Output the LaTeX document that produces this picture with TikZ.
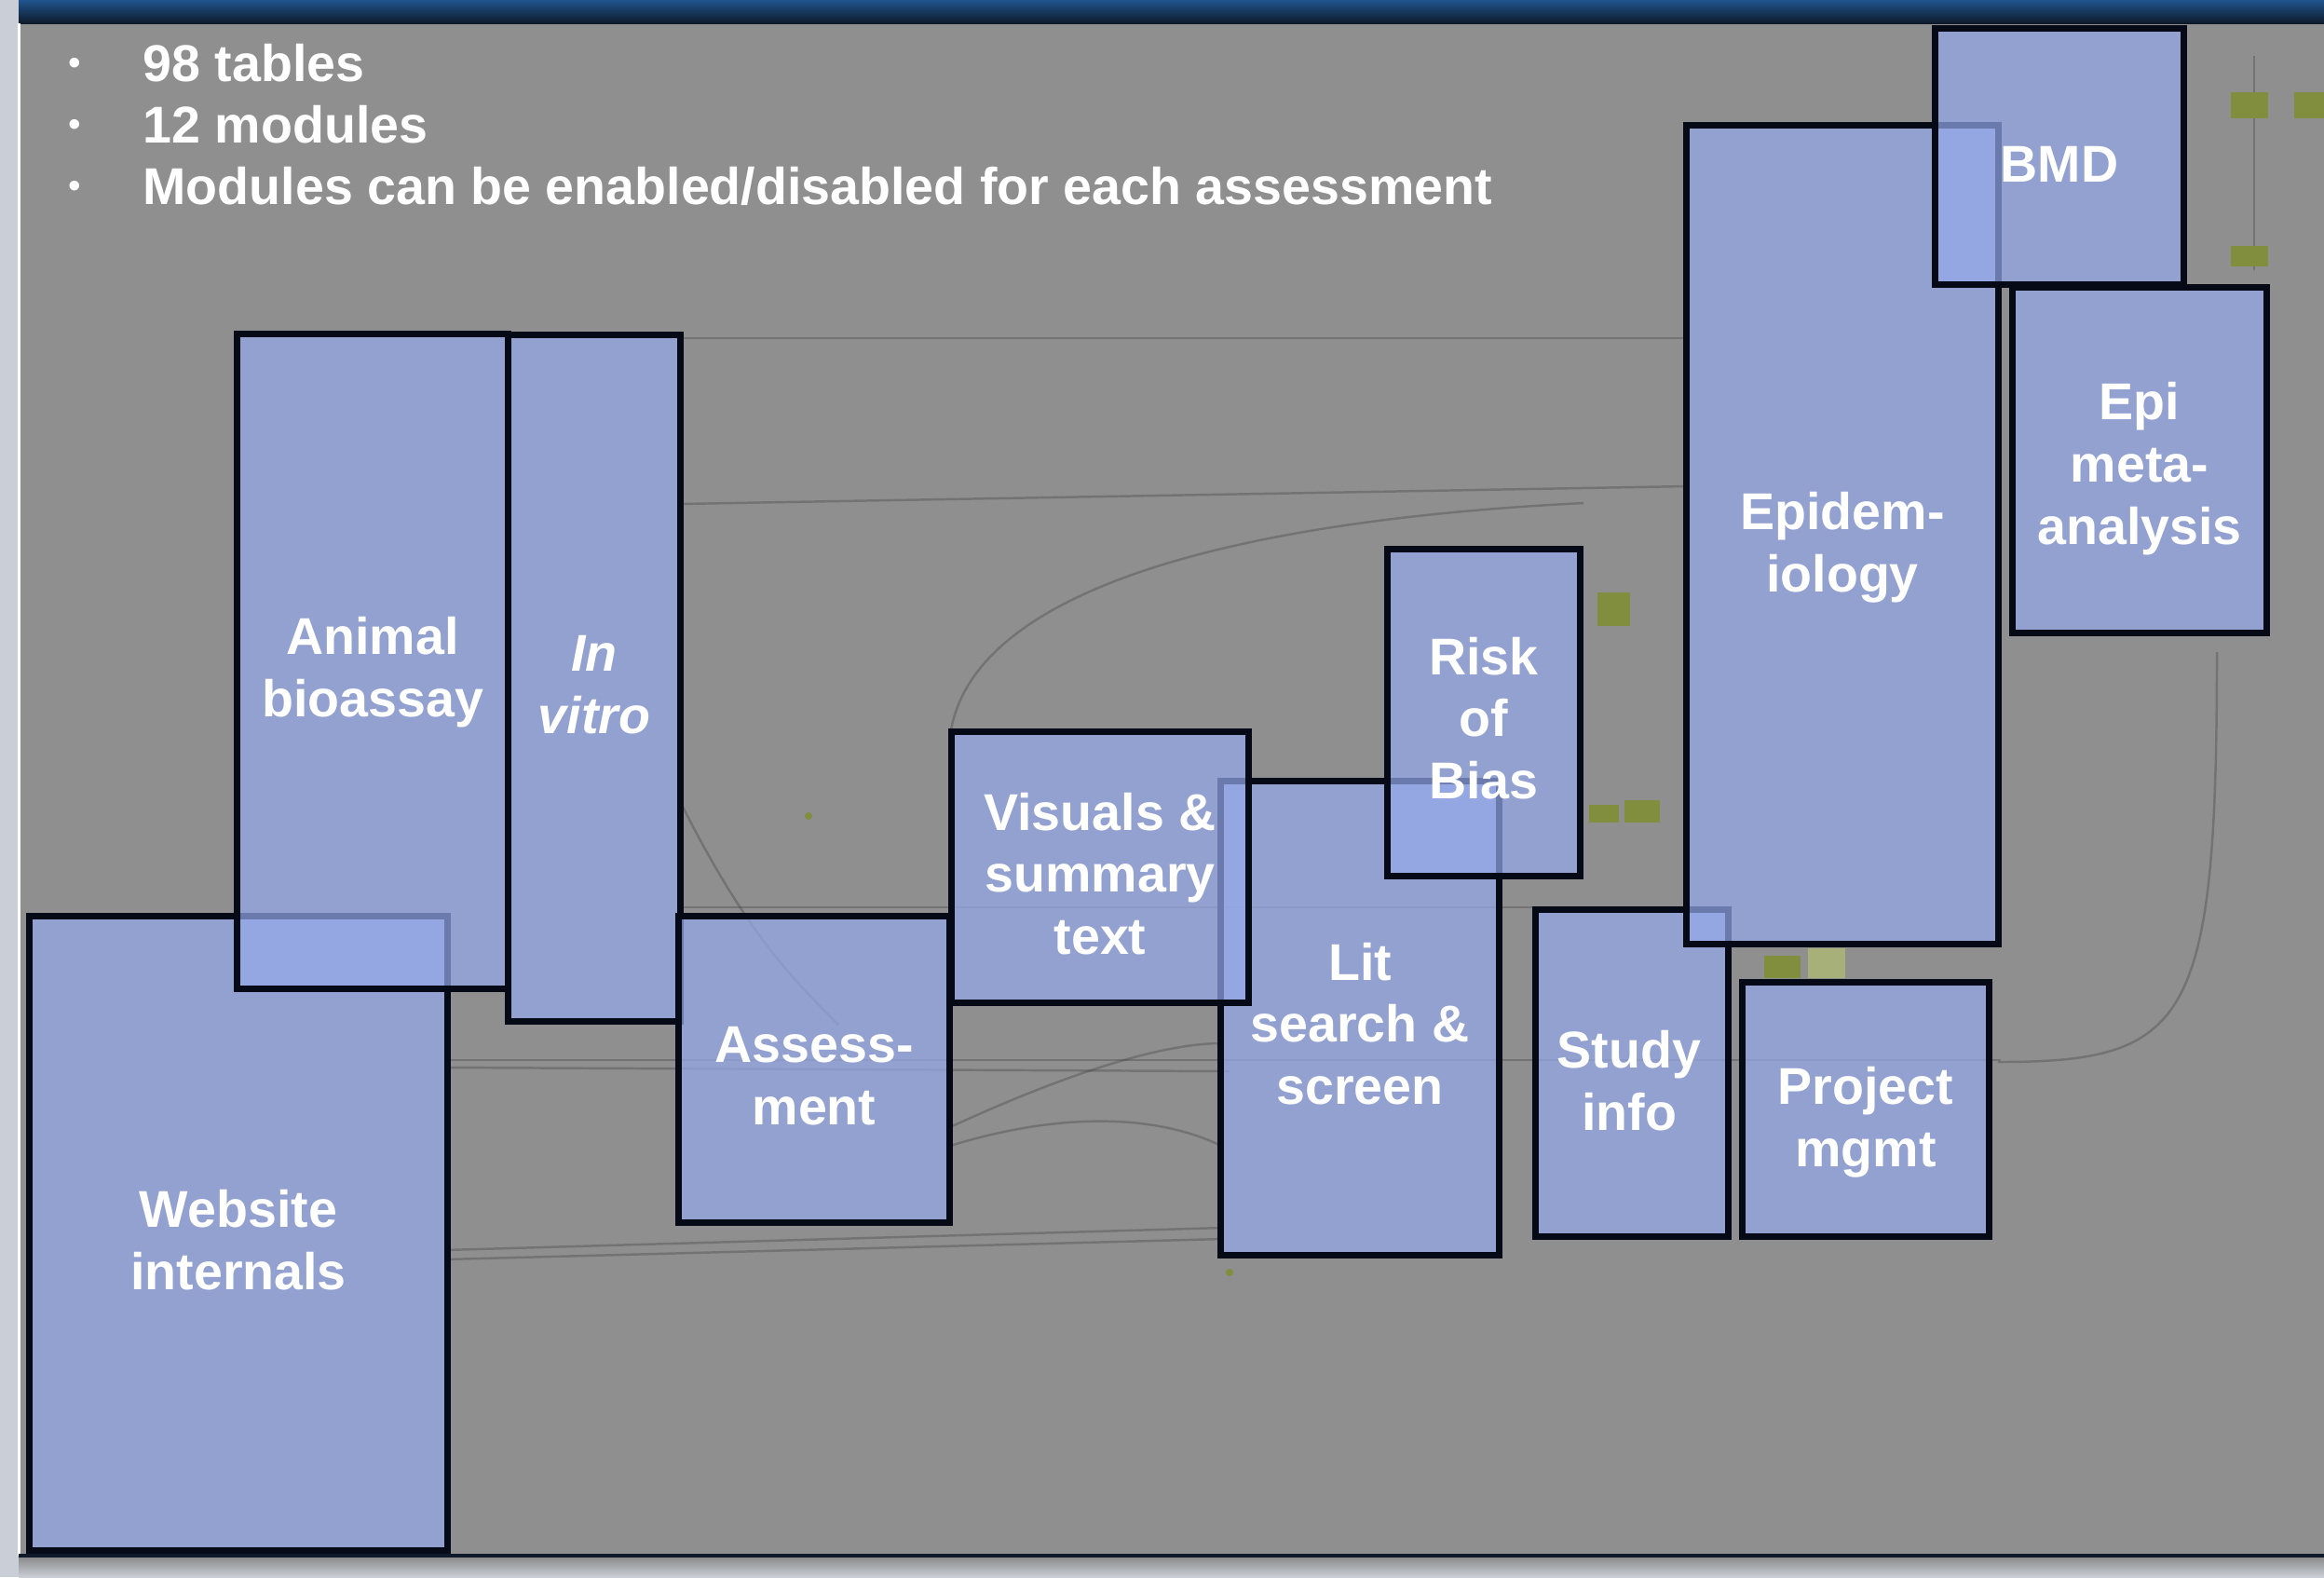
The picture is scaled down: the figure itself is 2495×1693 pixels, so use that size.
\documentclass[tikz,border=0pt]{standalone}
\usepackage{fontspec}
\setmainfont{Liberation Sans}
\usepackage{tikz}

\definecolor{slidegray}{RGB}{143,143,143}
\definecolor{stripgray}{RGB}{202,206,214}
\definecolor{barblue}{RGB}{32,84,142}
\definecolor{barnavy}{RGB}{14,26,42}
\definecolor{modblue}{RGB}{150,170,236}
\definecolor{edgeblack}{RGB}{6,10,22}
\definecolor{tabolive}{RGB}{128,142,62}

\newcommand{\modfont}{\fontsize{15.8}{19}\selectfont\bfseries}

\begin{document}
\begin{tikzpicture}[x=0.01cm, y=-0.01cm,
  module/.style={draw=edgeblack, line width=2pt, fill=modblue,
    fill opacity=0.7, inner sep=0pt},
  modlabel/.style={text=white, font=\modfont, align=center, inner sep=0pt,
    fill opacity=1, text opacity=1, draw opacity=1, yshift=#1},
  modlabel/.default=-0.08cm,
  bullettext/.style={text=white, font=\modfont, inner sep=0pt, anchor=base west},
  bulletdot/.style={text=white, font=\fontsize{11}{11}\selectfont, inner sep=0pt, anchor=base},
  diagline/.style={draw=black!75, line width=0.7pt, opacity=0.35}]
  \useasboundingbox (0,0) rectangle (2495,1693);

  % FOND
  \fill[stripgray] (0,0) rectangle (2495,1693);
  \fill[slidegray] (20,0) rectangle (2495,1670);
  \shade[top color=barblue, bottom color=barnavy] (20,0) rectangle (2495,25);
  \draw[white, line width=0.85pt] (20.5,25) -- (20.5,1670);
  \draw[barnavy, line width=1.2pt] (20,1670) -- (2495,1670);
  \shade[top color=black!45, bottom color=stripgray] (20,1672) rectangle (2495,1693);

  % LIGNES DU SCHEMA
  \draw[diagline] (730,363) -- (1811,363);
  \draw[diagline] (730,541) -- (1811,522);
  \draw[diagline] (730,974) -- (1830,974);
  \draw[diagline] (477,1138) -- (2148,1138);
  \draw[diagline] (477,1146) -- (1320,1150);
  \draw[diagline] (477,1342) -- (1313,1318);
  \draw[diagline] (477,1352) -- (1313,1330);
  \draw[diagline] (1020,1210) .. controls (1150,1150) and (1250,1120) .. (1311,1120);
  \draw[diagline] (1020,1230) .. controls (1150,1190) and (1250,1200) .. (1311,1230);
  \draw[diagline] (1020,790) .. controls (1040,640) and (1300,560) .. (1700,540);
  \draw[diagline] (2145,1140) .. controls (2350,1140) and (2380,1100) .. (2380,700);
  \draw[diagline] (730,860) .. controls (800,1000) and (850,1050) .. (900,1100);
  \draw[diagline] (2420,60) -- (2420,290);

  % TABLES
  \fill[tabolive] (1715,636) rectangle (1750,672);
  \fill[tabolive] (1706,864) rectangle (1738,883);
  \fill[tabolive] (1744,859) rectangle (1782,883);
  \fill[tabolive] (2395,99) rectangle (2435,127);
  \fill[tabolive] (2463,99) rectangle (2495,127);
  \fill[tabolive] (2395,264) rectangle (2435,286);
  \fill[tabolive] (1894,1026) rectangle (1933,1050);
  \fill[tabolive!70!white] (1941,1018) rectangle (1981,1050);
  \fill[tabolive] (868,876) circle (4);
  \fill[tabolive] (1320,1366) circle (4);

  % MODULES
  \node[module, minimum width=4.49cm, minimum height=6.81cm,
    label={[modlabel=-0.07cm]center:{Website\\internals}}] (website) at (256,1324) {};
  \node[module, minimum width=2.91cm, minimum height=7.02cm,
    label={[modlabel=-0.12cm]center:{Animal\\bioassay}}] (animal) at (400,710) {};
  \node[module, minimum width=1.85cm, minimum height=7.37cm,
    label={[modlabel=-0.07cm]center:{\textit{In}\\\textit{vitro}}}] (invitro) at (638,728) {};
  \node[module, minimum width=2.91cm, minimum height=3.29cm,
    label={[modlabel=-0.07cm]center:{Assess-\\ment}}] (assessment) at (874,1148) {};
  \node[module, minimum width=2.99cm, minimum height=5.09cm,
    label={[modlabel=-0.06cm]center:{Lit\\search \&\\screen}}] (litsearch) at (1460,1093) {};
  \node[module, minimum width=3.18cm, minimum height=2.90cm,
    label={[modlabel=-0.07cm]center:{Visuals \&\\summary\\text}}] (visuals) at (1181,931) {};
  \node[module, minimum width=2.07cm, minimum height=3.50cm,
    label={[modlabel=-0.06cm]center:{Risk\\of\\Bias}}] (riskbias) at (1593,765) {};
  \node[module, minimum width=2.07cm, minimum height=3.50cm,
    label={[modlabel=-0.08cm, xshift=-0.03cm]center:{Study\\info}}] (studyinfo) at (1752,1152) {};
  \node[module, minimum width=3.34cm, minimum height=8.78cm,
    label={[modlabel=-0.14cm]center:{Epidem-\\iology}}] (epidem) at (1978,574) {};
  \node[module, minimum width=2.66cm, minimum height=2.75cm,
    label={[modlabel=-0.08cm]center:{BMD}}] (bmd) at (2211,168) {};
  \node[module, minimum width=2.64cm, minimum height=2.72cm,
    label={[modlabel=-0.14cm]center:{Project\\mgmt}}] (project) at (2003,1191) {};
  \node[module, minimum width=2.72cm, minimum height=3.71cm,
    label={[modlabel=-0.09cm]center:{Epi\\meta-\\analysis}}] (epimeta) at (2297,494) {};

  % PUCES
  \node[bulletdot] (dotA) at (80,80) {\textbullet};
  \node[bulletdot] (dotB) at (80,146) {\textbullet};
  \node[bulletdot] (dotC) at (80,212) {\textbullet};
  \node[bullettext] (tables) at (153,87) {98 tables};
  \node[bullettext] (modules) at (153,153) {12 modules};
  \node[bullettext] (enabled) at (153,219) {Modules can be enabled/disabled for each assessment};

\end{tikzpicture}
\end{document}
